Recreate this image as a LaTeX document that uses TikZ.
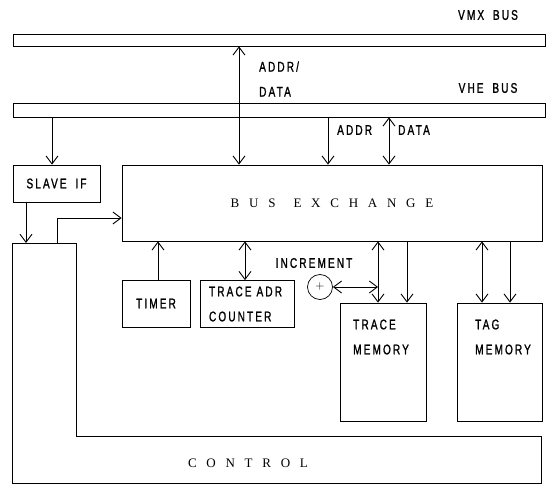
\documentclass[tikz,border=0pt]{standalone}
\usepackage{fontspec}
\usetikzlibrary{arrows.meta}
\newfontfamily\plotfont{Liberation Sans}[FakeStretch=0.72,LetterSpace=15,FakeBold=1.2,WordSpace=1.8]
\newfontfamily\spacedfont{Liberation Serif}[LetterSpace=75]
\begin{document}
\begin{tikzpicture}[x=1pt,y=-1pt,
  box/.style={draw, line width=0.7pt, inner sep=0pt, rectangle},
  lbl/.style={font=\plotfont\fontsize{14}{25}\selectfont, inner sep=0pt},
  big/.style={font=\spacedfont\fontsize{13}{13}\selectfont, inner sep=0pt},
  tip/.tip={Straight Barb[length=8pt,width=12pt]},
  arr/.style={line width=0.9pt, -tip},
  dbl/.style={line width=0.9pt, tip-tip}]
\useasboundingbox (0,0) rectangle (547,484);

% buses
\node[box, minimum width=532pt, minimum height=12pt] (vmx) at (279,40) {};
\node[box, minimum width=532pt, minimum height=14pt] (vhe) at (279,110) {};
\node[lbl] (vmxlbl) at (488,15) {VMX BUS};
\node[lbl] (vhelbl) at (488,88) {VHE BUS};

% blocks
\node[box, minimum width=420pt, minimum height=76pt, big] (busx) at (332,203) {BUS\hspace{18pt}EXCHANGE};
\node[box, minimum width=87pt, minimum height=37pt, lbl] (slave) at (56.5,183.5) {SLAVE IF};
\node[box, minimum width=68pt, minimum height=47pt, lbl] (timer) at (156,303.5) {TIMER};
\node[box, minimum width=94pt, minimum height=47pt, lbl, align=left, text width=76pt] (tadr) at (247,304) {TRACE\hspace{5pt}ADR\\COUNTER};
\node[box, minimum width=86pt, minimum height=118pt] (tmem) at (383,362) {};
\node[box, minimum width=85pt, minimum height=118pt] (tag) at (499.5,362) {};
\node[lbl, anchor=west, align=left] (tmemlbl) at (353,337) {TRACE\\MEMORY};
\node[lbl, anchor=west, align=left] (taglbl) at (475,337) {TAG\\MEMORY};
\node[draw, circle, line width=0.7pt, minimum size=25pt, inner sep=0pt,
      font=\fontsize{12}{12}\selectfont] (inc) at (320,287) {$+$};
\node[lbl] (inclbl) at (314,263) {INCREMENT};

% control
\coordinate (c1) at (12,243);
\coordinate (c2) at (76,243);
\coordinate (c3) at (76,436);
\coordinate (c4) at (541,436);
\coordinate (c5) at (541,483);
\coordinate (c6) at (12,483);
\draw[line width=0.7pt] (c1) -- (c2) -- (c3) -- (c4) -- (c5) -- (c6) -- cycle;
\node[big] (ctl) at (248,463) {CONTROL};

% bus labels
\node[lbl, anchor=west, align=left] (adlbl) at (259,79) {ADDR/\\DATA};
\node[lbl, anchor=west] (addrlbl) at (337,130) {ADDR};
\node[lbl, anchor=west] (datalbl) at (398,130) {DATA};

% connectors
\draw[dbl] (239,0 |- vmx.south) -- (239,0 |- busx.north);
\draw[arr] (52,0 |- vhe.south) -- (52,0 |- slave.north);
\draw[arr] (328,0 |- vhe.south) -- (328,0 |- busx.north);
\draw[dbl] (389,0 |- vhe.south) -- (389,0 |- busx.north);
\draw[arr] (26,0 |- slave.south) -- (26,0 |- c1);
\coordinate (ctlout) at (57,243);
\draw[arr] (ctlout) -- (57,218) -- (busx.west |- 0,218);
\draw[arr] (158,0 |- timer.north) -- (158,0 |- busx.south);
\draw[dbl] (245,0 |- busx.south) -- (245,0 |- tadr.north);
\draw[dbl] (378,0 |- busx.south) -- (378,0 |- tmem.north);
\draw[arr] (407,0 |- busx.south) -- (407,0 |- tmem.north);
\draw[dbl] (inc.east) -- (378,0 |- inc.east);
\draw[dbl] (482,0 |- busx.south) -- (482,0 |- tag.north);
\draw[arr] (510,0 |- busx.south) -- (510,0 |- tag.north);
\end{tikzpicture}
\end{document}
